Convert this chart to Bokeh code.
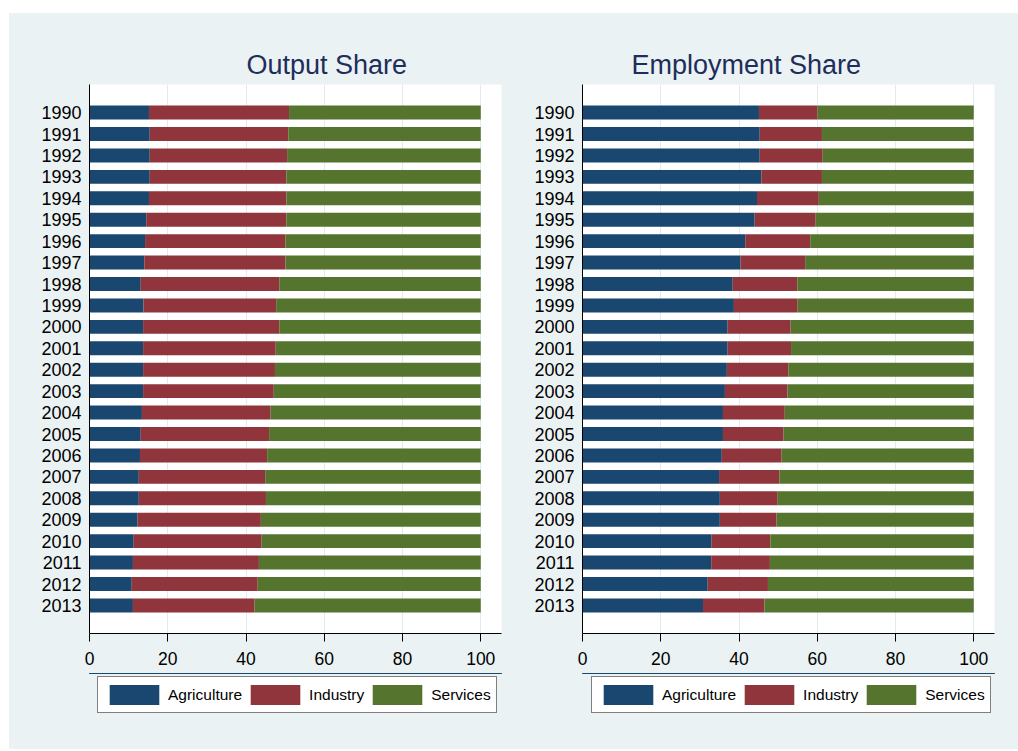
from bokeh.plotting import figure
from bokeh.models import (ColumnDataSource, Range1d, FixedTicker, Legend, LegendItem, Spacer)
from bokeh.layouts import row, column
from bokeh.embed import file_html
from bokeh.resources import INLINE

years = list(range(1990, 2014))
sectors = ["Agriculture", "Industry", "Services"]
colors = ["#1A476F", "#90353B", "#55752F"]
x_ticks = [0, 20, 40, 60, 80, 100]

out_agri = [15.2, 15.4, 15.4, 15.4, 15.2, 14.5, 14.2, 14.0, 13.1, 13.8, 13.7, 13.7,
            13.7, 13.7, 13.4, 13.1, 12.9, 12.6, 12.6, 12.3, 11.3, 11.1, 10.8, 11.1]
out_ind = [35.8, 35.4, 35.1, 34.9, 35.1, 35.8, 35.9, 36.1, 35.4, 33.9, 34.8, 33.9,
           33.7, 33.4, 32.9, 32.8, 32.5, 32.3, 32.5, 31.5, 32.7, 32.2, 32.2, 31.1]
out_serv = [49.0, 49.2, 49.5, 49.7, 49.7, 49.7, 49.9, 49.9, 51.5, 52.3, 51.5, 52.4,
            52.6, 52.9, 53.7, 54.1, 54.6, 55.1, 54.9, 56.2, 56.0, 56.7, 57.0, 57.8]

emp_agri = [45.1, 45.3, 45.3, 45.7, 44.6, 44.0, 41.6, 40.4, 38.4, 38.7, 37.1, 37.1,
            36.9, 36.4, 35.9, 35.9, 35.6, 34.9, 35.1, 35.1, 33.0, 32.9, 32.0, 30.8]
emp_ind = [15.0, 15.9, 16.1, 15.5, 15.8, 15.6, 16.6, 16.5, 16.5, 16.3, 16.1, 16.2,
           15.7, 16.0, 15.8, 15.5, 15.3, 15.4, 14.8, 14.5, 15.0, 15.0, 15.4, 15.7]
emp_serv = [39.9, 38.8, 38.6, 38.8, 39.6, 40.4, 41.8, 43.1, 45.1, 45.0, 46.8, 46.7,
            47.4, 47.6, 48.3, 48.6, 49.1, 49.7, 50.1, 50.4, 52.0, 52.1, 52.6, 53.5]

FONT = "Liberation Sans"
BG = "#EAF2F3"


def make_panel(title, agri, ind, serv, width, border_left, border_right, title_offset, leg_x):
    src = ColumnDataSource(dict(year=years, Agriculture=agri, Industry=ind, Services=serv))
    p = figure(width=width, height=660, output_backend="svg", toolbar_location=None,
               x_range=Range1d(0, 105.3), y_range=Range1d(2014.31, 1988.69),
               min_border_left=border_left, min_border_right=border_right,
               min_border_top=71, min_border_bottom=40)
    p.hbar_stack(sectors, y="year", height=0.65, color=colors, source=src,
                 line_color=None)
    p.title.text = title
    p.title.text_font = FONT
    p.title.text_font_size = "27px"
    p.title.text_font_style = "normal"
    p.title.text_color = "#1E2D5A"
    p.title.align = "left"
    p.title.offset = title_offset
    p.background_fill_color = "white"
    p.border_fill_color = BG
    p.outline_line_color = None

    p.xaxis.ticker = FixedTicker(ticks=x_ticks)
    p.xaxis.major_tick_out = 8
    p.xaxis.major_tick_in = 0
    p.xaxis.minor_tick_line_color = None
    p.xaxis.major_label_standoff = 10
    p.xaxis.major_label_text_font = FONT
    p.xaxis.major_label_text_font_size = "17.5px"
    p.xaxis.major_label_text_color = "black"
    p.xaxis.axis_line_color = "black"
    p.xaxis.major_tick_line_color = "black"

    p.yaxis.ticker = FixedTicker(ticks=years)
    p.yaxis.major_label_overrides = {y: str(y) for y in years}
    p.yaxis.major_tick_line_color = None
    p.yaxis.minor_tick_line_color = None
    p.yaxis.major_tick_out = 0
    p.yaxis.major_tick_in = 0
    p.yaxis.major_label_standoff = 8
    p.yaxis.major_label_text_font = FONT
    p.yaxis.major_label_text_font_size = "18px"
    p.yaxis.major_label_text_color = "black"
    p.yaxis.axis_line_color = "black"

    p.xgrid.ticker = FixedTicker(ticks=x_ticks[1:])
    p.xgrid.grid_line_color = "#E1EAEE"
    p.ygrid.grid_line_color = None

    # legend strip below the chart (same data, kept out of view; only the legend shows)
    q = figure(width=width, height=76, output_backend="svg", toolbar_location=None,
               x_range=Range1d(0, 1), y_range=Range1d(0, 1),
               min_border_left=border_left, min_border_right=border_right,
               min_border_top=0, min_border_bottom=0,
               x_axis_type=None, y_axis_type=None)
    q.background_fill_color = BG
    q.border_fill_color = BG
    q.outline_line_color = None
    q.xgrid.visible = False
    q.ygrid.visible = False
    rs = q.hbar_stack(sectors, y="year", height=0.65, color=colors, source=src,
                      line_color=None)
    items = [LegendItem(label=s, renderers=[r]) for s, r in zip(sectors, rs)]
    leg = Legend(items=items, orientation="horizontal", location=(leg_x, 36),
                 glyph_width=62, glyph_height=25, label_standoff=3, spacing=2,
                 padding=5, margin=0,
                 label_text_font=FONT, label_text_font_size="15.5px",
                 label_text_color="black",
                 border_line_color="black", border_line_width=1,
                 background_fill_color="white", background_fill_alpha=1.0)
    q.add_layout(leg, "center")
    return column(p, q, spacing=0, styles={"background-color": BG})


left = make_panel("Output Share", out_agri, out_ind, out_serv, 505, 80, 13, 157, 8)
right = make_panel("Employment Share", emp_agri, emp_ind, emp_serv, 504, 68, 24, 49, 9)

layout = row(Spacer(width=9),
             column(Spacer(height=13),
                    row(left, right, spacing=0, styles={"background-color": BG}),
                    spacing=0),
             spacing=0)

open("out.html", "w").write(file_html(layout, INLINE))
